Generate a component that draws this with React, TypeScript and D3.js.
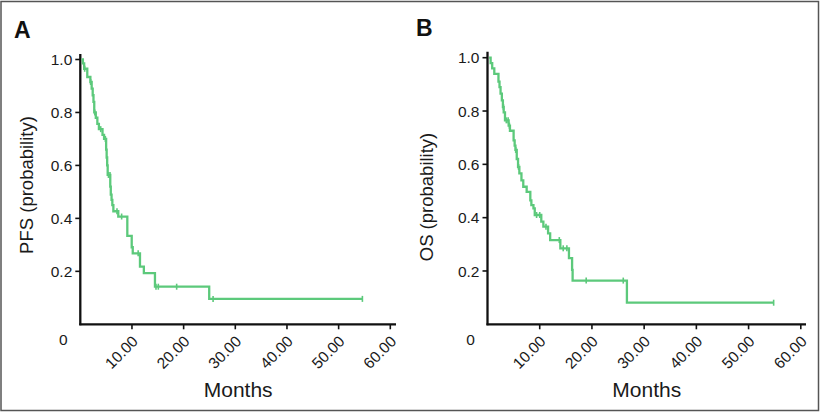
import React from "react";
import * as d3 from "d3";

// ---- Data ----
const yTicks = [0.2, 0.4, 0.6, 0.8, 1.0];
const xTicks = [10, 20, 30, 40, 50, 60];

// Panel A: PFS
const pfsStart = 0.2;
const pfsTimes = [0.5, 0.75, 1.35, 1.95, 2.2, 2.4, 2.55, 2.7, 3.0, 3.3, 3.6, 4.3, 4.6, 5.0, 5.1, 5.2, 5.3, 5.8, 5.9, 6.05, 6.2, 6.4, 7.35, 9.1, 9.95, 10.15, 11.55, 12.3, 14.45, 24.95];
const pfsSurv = [0.985, 0.965, 0.934, 0.915, 0.89, 0.865, 0.84, 0.80, 0.78, 0.757, 0.737, 0.715, 0.70, 0.66, 0.63, 0.6, 0.564, 0.52, 0.49, 0.47, 0.45, 0.427, 0.407, 0.334, 0.291, 0.268, 0.218, 0.193, 0.142, 0.096];
const pfsCensor = [0.85, 2.0, 2.8, 3.95, 4.85, 5.45, 5.75, 7.1, 8.0, 11.2, 14.65, 15.1, 18.65, 25.7, 54.6];

// Panel B: OS
const osStart = 0.3;
const osTimes = [0.6, 0.9, 1.3, 2.1, 2.3, 2.5, 2.75, 2.95, 3.1, 3.35, 4.05, 4.3, 5.0, 5.2, 5.35, 5.6, 5.85, 6.1, 6.5, 6.85, 7.5, 8.2, 8.4, 8.8, 9.05, 10.3, 10.7, 11.6, 12.0, 13.95, 15.6, 16.2, 16.3, 26.7];
const osSurv = [0.98, 0.96, 0.939, 0.91, 0.89, 0.865, 0.84, 0.815, 0.795, 0.765, 0.745, 0.726, 0.69, 0.67, 0.654, 0.62, 0.59, 0.566, 0.54, 0.516, 0.497, 0.465, 0.447, 0.435, 0.41, 0.385, 0.366, 0.341, 0.316, 0.285, 0.248, 0.204, 0.164, 0.081];
const osCensor = [3.05, 3.6, 3.95, 4.2, 5.4, 5.95, 9.4, 10.0, 11.2, 13.75, 14.5, 15.2, 18.9, 26.0, 54.8];

const GREEN = "#5cc97b";
const INK = "#1a1a1a";
const FONT = "'Liberation Sans', Arial, Helvetica, sans-serif";

type PanelProps = {
  letter: string;
  letterX: number;
  letterY: number;
  yLabel: string;
  yLabelX: number;
  yLabelY: number;
  xRange: [number, number];
  yRange: [number, number];
  axisRight: number;
  axisTop: number;
  start: number;
  times: number[];
  surv: number[];
  censor: number[];
};

function Panel(p: PanelProps) {
  const x = d3.scaleLinear().domain([0, 60]).range(p.xRange);
  const y = d3.scaleLinear().domain([0, 1]).range(p.yRange);
  const x0 = x(0);
  const y0 = y(0);

  const pts: [number, number][] = [[p.start, 1]];
  p.times.forEach((t, i) => pts.push([t, p.surv[i]]));
  const lastT = d3.max(p.censor) as number;
  pts.push([lastT, p.surv[p.surv.length - 1]]);

  const line = d3
    .line<[number, number]>()
    .x((d) => x(d[0]))
    .y((d) => y(d[1]))
    .curve(d3.curveStepAfter);

  const survAt = (t: number) => {
    let s = 1;
    p.times.forEach((tt, i) => {
      if (tt <= t) s = p.surv[i];
    });
    return s;
  };

  return (
    <g>
      <text x={p.letterX} y={p.letterY} fontFamily={FONT} fontWeight="bold" fontSize={23} fill="#111">
        {p.letter}
      </text>
      {/* axes */}
      <line x1={x0} x2={x0} y1={p.axisTop} y2={y0 + 1} stroke="#111" strokeWidth={2.3} />
      <line x1={x0 - 1} x2={p.axisRight} y1={y0} y2={y0} stroke="#111" strokeWidth={2.3} />
      {yTicks.map((t) => (
        <g key={"y" + t}>
          <line x1={x0 - 5} x2={x0} y1={y(t)} y2={y(t)} stroke="#111" strokeWidth={1.6} />
          <text x={x0 - 8} y={y(t)} dy="0.36em" textAnchor="end" fontFamily={FONT} fontSize={15.5} fill={INK}>
            {t.toFixed(1)}
          </text>
        </g>
      ))}
      <text x={x0 - 17} y={y0 + 21} textAnchor="middle" fontFamily={FONT} fontSize={15.5} fill={INK}>
        0
      </text>
      {xTicks.map((t) => (
        <g key={"x" + t}>
          <line x1={x(t)} x2={x(t)} y1={y0} y2={y0 + 5} stroke="#111" strokeWidth={1.6} />
          <text
            transform={`translate(${x(t) + 7},${y0 + 18}) rotate(-45)`}
            textAnchor="end"
            fontFamily={FONT}
            fontSize={15.5}
            fill={INK}
          >
            {t.toFixed(2)}
          </text>
        </g>
      ))}
      <text
        x={(x0 + p.axisRight) / 2}
        y={397}
        textAnchor="middle"
        fontFamily={FONT}
        fontSize={21}
        fill={INK}
      >
        Months
      </text>
      <text
        transform={`translate(${p.yLabelX},${p.yLabelY}) rotate(-90)`}
        textAnchor="middle"
        fontFamily={FONT}
        fontSize={18.5}
        fill={INK}
      >
        {p.yLabel}
      </text>
      {/* curve */}
      <path d={line(pts) || ""} fill="none" stroke={GREEN} strokeWidth={2.3} />
      {p.censor.map((t, i) => (
        <line
          key={"c" + i}
          x1={x(t)}
          x2={x(t)}
          y1={y(survAt(t)) - 3}
          y2={y(survAt(t)) + 3}
          stroke={GREEN}
          strokeWidth={1.6}
        />
      ))}
    </g>
  );
}

export default function App() {
  return (
    <svg
      width={823}
      height={412}
      style={{ position: "absolute", left: 0, top: 0, background: "#fff" }}
    >
      <rect x={0} y={0} width={823} height={412} fill="#fff" />
      <rect x={1} y={1.5} width={817.5} height={409} fill="none" stroke="#555" strokeWidth={1.5} />
      <Panel
        letter="A"
        letterX={14}
        letterY={38}
        yLabel="PFS (probability)"
        yLabelX={33}
        yLabelY={185}
        xRange={[80.3, 390.3]}
        yRange={[324.3, 59.5]}
        axisRight={396}
        axisTop={54}
        start={pfsStart}
        times={pfsTimes}
        surv={pfsSurv}
        censor={pfsCensor}
      />
      <Panel
        letter="B"
        letterX={416}
        letterY={36}
        yLabel="OS (probability)"
        yLabelX={433}
        yLabelY={197}
        xRange={[487.5, 800.8]}
        yRange={[324.3, 57.7]}
        axisRight={806}
        axisTop={51.7}
        start={osStart}
        times={osTimes}
        surv={osSurv}
        censor={osCensor}
      />
    </svg>
  );
}
